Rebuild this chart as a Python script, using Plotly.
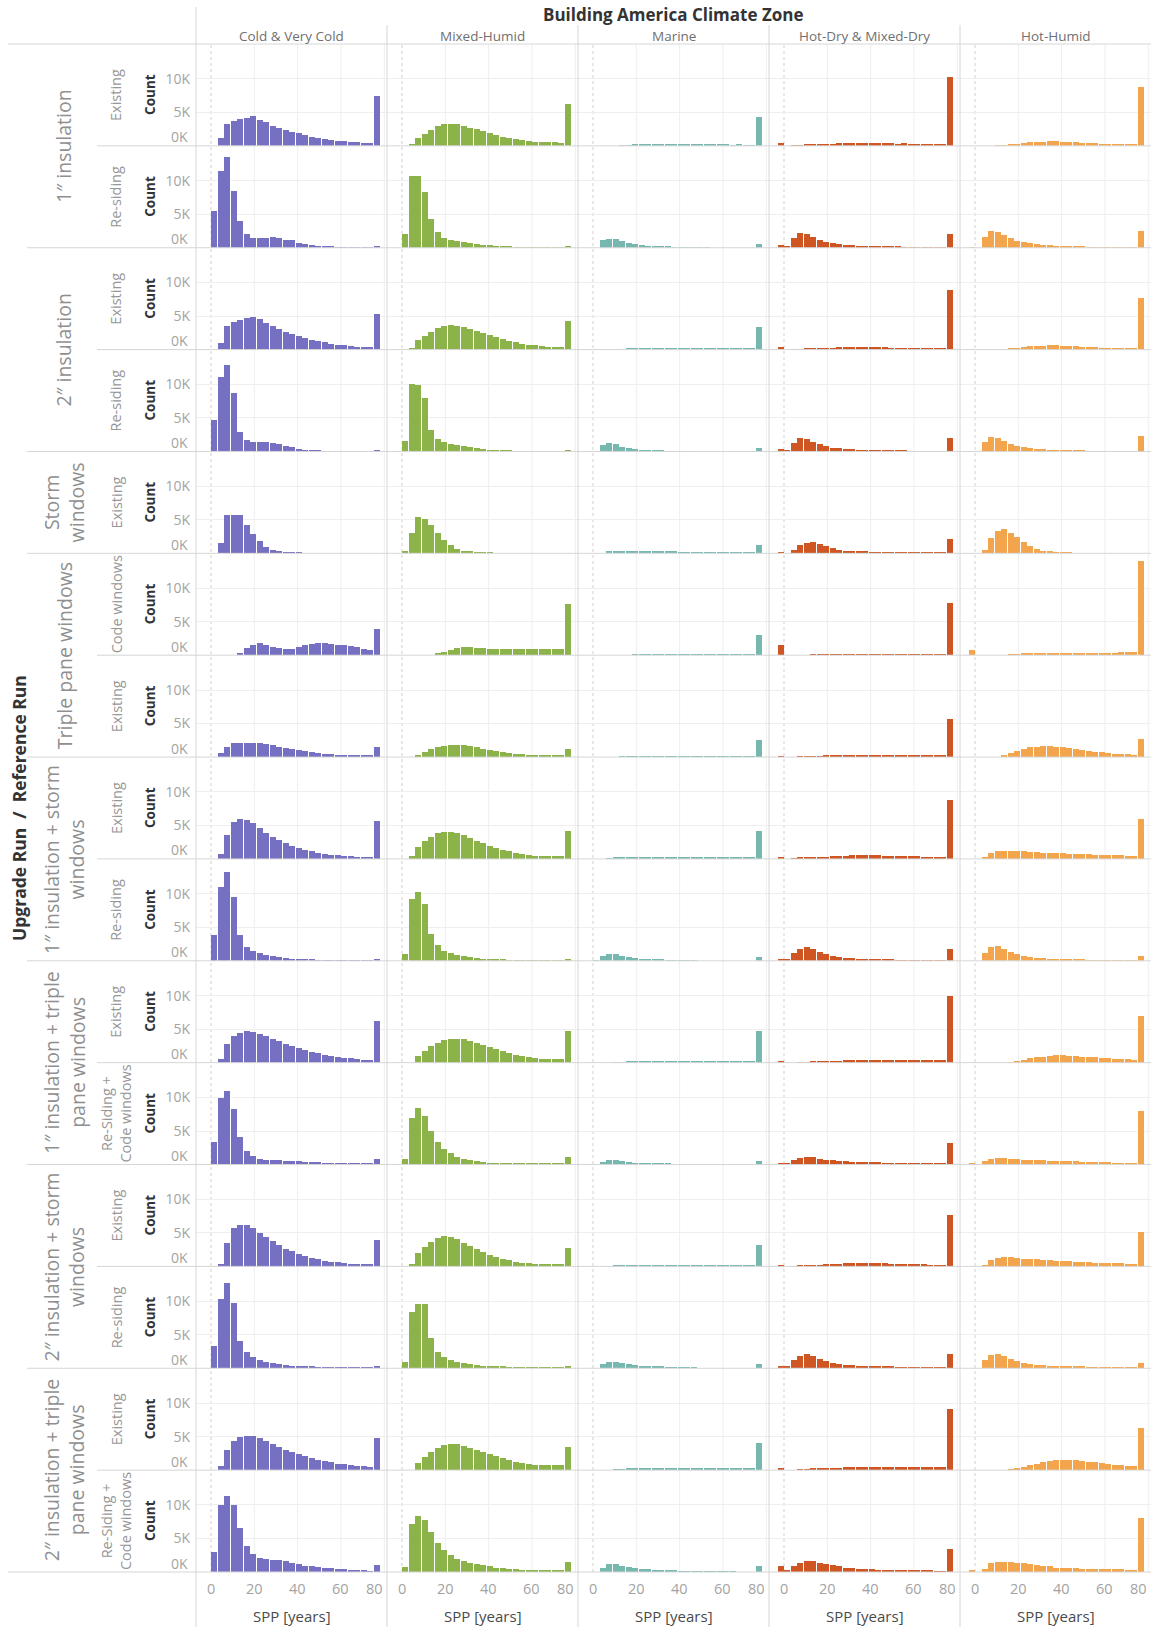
import plotly.graph_objects as go

# ---------------- data ----------------
BIN_CENTERS = [-1.5, 1.5, 4.5, 7.5, 10.5, 13.5, 16.5, 19.5, 22.5, 25.5, 28.5, 31.5, 34.5, 37.5,
               40.5, 43.5, 46.5, 49.5, 52.5, 55.5, 58.5, 61.5, 64.5, 67.5, 70.5, 73.5, 76.5]
ZONES = ["Cold & Very Cold", "Mixed-Humid", "Marine", "Hot-Dry & Mixed-Dry", "Hot-Humid"]
ZONE_COLORS = ["#7670c2", "#8cb24a", "#76b8b0", "#cf5522", "#f2a54c"]
X_TICKS = [0, 20, 40, 60, 80]
Y_TICKS = [5000, 10000]
Y_TICK_TEXT = ["5K", "10K"]
GROUPS = ["1\u2033 insulation", "2\u2033 insulation", "Storm<br>windows", "Triple pane windows",
          "1\u2033 insulation + storm<br>windows", "1\u2033 insulation + triple<br>pane windows",
          "2\u2033 insulation + storm<br>windows", "2\u2033 insulation + triple<br>pane windows"]
GROUP_SIZES = [2, 2, 1, 2, 2, 2, 2, 2]
ROW_LABELS = ["Existing", "Re-siding", "Existing", "Re-siding", "Existing", "Code windows", "Existing",
              "Existing", "Re-siding", "Existing", "Re-Siding +<br>Code windows", "Existing", "Re-siding",
              "Existing", "Re-Siding +<br>Code windows"]

# 1" insulation - Existing
ins1_ex_cold = [0,0,1200,3200,3700,4000,4200,4400,3900,3500,3000,2700,2300,2100,1900,1600,1250,1100,1000,850,750,700,600,550,500,450,7400]
ins1_ex_mixed = [0,0,200,1200,1800,2300,2900,3200,3200,3200,2900,2700,2500,2200,1900,1650,1350,1100,1000,900,750,600,600,600,600,450,6300]
ins1_ex_marine = [0,0,0,0,0,50,100,150,150,150,200,150,150,150,150,150,150,150,150,150,150,150,100,150,100,100,4300]
ins1_ex_hotdry = [450,0,20,50,150,150,150,250,250,400,400,400,400,400,400,400,400,400,300,400,300,300,300,300,300,300,10250]
ins1_ex_hothum = [0,0,0,0,50,80,150,300,400,600,600,600,750,750,600,600,550,500,500,400,350,350,350,350,350,350,8850]
# 1" insulation - Re-siding
ins1_rs_cold = [0,5500,11500,13500,8500,4000,2000,1400,1400,1400,1600,1400,1100,1100,800,650,400,350,250,150,100,80,60,50,50,50,200]
ins1_rs_mixed = [0,2100,10700,10700,8400,4300,2350,1400,1150,1000,900,750,650,500,400,300,200,150,100,80,60,50,40,30,30,30,150]
ins1_rs_marine = [0,0,1150,1300,1300,1000,750,550,400,300,250,200,150,100,50,30,20,20,20,0,0,0,0,0,0,0,650]
ins1_rs_hotdry = [500,300,1400,2200,2100,1600,1200,900,700,600,500,400,350,300,250,250,200,150,150,100,50,50,50,30,30,30,2000]
ins1_rs_hothum = [50,0,1600,2500,2300,1900,1400,1050,850,700,600,500,400,300,250,200,150,150,120,100,80,60,50,40,30,30,2500]
# 2" insulation - Existing
ins2_ex_cold = [0,0,1000,3600,4100,4400,4700,4900,4600,4000,3500,3100,2700,2400,2100,1800,1500,1300,1100,950,800,700,600,500,450,400,5400]
ins2_ex_mixed = [0,0,300,1400,2100,2700,3200,3500,3700,3600,3400,3100,2800,2500,2200,1900,1600,1300,1100,950,800,700,600,500,450,400,4300]
ins2_ex_marine = [0,0,0,0,50,100,150,200,250,250,250,250,250,250,250,250,250,250,250,250,250,200,200,200,200,150,3400]
ins2_ex_hotdry = [400,0,20,50,150,200,250,300,350,400,400,400,400,400,400,400,400,350,350,350,300,300,300,300,300,300,9000]
ins2_ex_hothum = [0,0,0,0,50,100,200,300,450,550,600,650,700,700,650,600,550,500,450,400,350,350,350,300,300,300,7800]
# 2" insulation - Re-siding
ins2_rs_cold = [0,4800,11200,13000,8800,3000,1800,1400,1400,1400,1300,1100,900,700,500,350,250,150,100,60,50,50,50,50,50,50,200]
ins2_rs_mixed = [0,1600,10100,10000,8100,3200,1900,1400,1200,1000,850,700,550,450,350,250,200,150,100,80,60,50,40,30,30,30,150]
ins2_rs_marine = [0,0,1000,1300,1100,800,600,450,350,250,200,150,100,50,30,20,20,0,0,0,0,0,0,0,0,0,600]
ins2_rs_hotdry = [500,300,1300,2000,1900,1500,1100,850,650,550,450,400,300,250,200,150,150,150,150,150,100,50,50,30,30,30,2100]
ins2_rs_hothum = [0,0,1400,2200,2000,1600,1200,950,750,600,500,450,350,300,250,200,150,150,100,100,80,60,50,40,30,30,2300]
# Storm windows - Existing
stw_ex_cold = [0,0,1500,5600,5600,5600,4200,2800,1700,900,500,250,100,50,20,0,0,0,0,0,0,0,0,0,0,0,0]
stw_ex_mixed = [0,300,3000,5300,5100,4200,3000,1900,1100,600,300,150,80,40,20,0,0,0,0,0,0,0,0,0,0,0,0]
stw_ex_marine = [0,0,0,150,300,350,300,300,250,200,200,150,150,150,100,100,100,100,50,50,50,50,50,50,50,50,1200]
stw_ex_hotdry = [100,0,500,1100,1500,1600,1300,1000,700,500,350,250,200,150,100,80,60,50,40,30,20,20,20,20,20,20,2000]
stw_ex_hothum = [0,0,500,2200,3200,3600,3000,2400,1600,1000,600,350,200,100,50,20,0,0,0,0,0,0,0,0,0,0,0]
# Triple pane windows - Code windows
tpw_cw_cold = [0,0,0,0,0,300,1000,1500,1800,1500,1200,1000,900,900,1100,1400,1600,1700,1700,1600,1500,1400,1300,1100,900,800,3900]
tpw_cw_mixed = [0,0,0,0,0,0,200,500,800,1000,1100,1100,1000,1000,950,950,900,900,900,900,900,900,900,900,900,900,7600]
tpw_cw_marine = [0,0,0,0,0,0,0,20,50,50,50,50,50,50,50,50,50,50,50,50,50,50,50,50,50,50,3000]
tpw_cw_hotdry = [1400,0,0,0,0,20,50,50,80,80,80,80,80,80,80,80,80,80,80,80,80,80,80,80,80,80,7800]
tpw_cw_hothum = [700,0,0,0,0,0,50,100,150,200,250,250,300,300,300,300,300,300,300,300,300,350,350,400,400,500,14000]
# Triple pane windows - Existing
tpw_ex_cold = [0,0,600,1500,2000,2100,2100,2100,2000,1900,1700,1500,1300,1150,1000,850,700,600,500,400,350,300,250,200,200,200,1400]
tpw_ex_mixed = [0,0,0,300,700,1100,1400,1600,1800,1800,1700,1550,1400,1200,1000,850,700,600,500,400,350,300,250,250,250,250,1200]
tpw_ex_marine = [0,0,0,0,0,50,50,100,100,100,100,100,100,100,100,100,100,100,100,100,50,50,50,50,50,50,2500]
tpw_ex_hotdry = [100,0,0,20,50,100,100,150,200,200,250,250,250,250,250,250,250,250,200,200,200,200,200,200,200,200,5700]
tpw_ex_hothum = [0,0,0,0,0,300,600,900,1200,1400,1500,1600,1600,1500,1400,1300,1200,1050,900,800,700,600,500,450,400,350,2600]
# 1" insulation + storm windows - Existing
i1s_ex_cold = [0,0,700,3500,5500,5900,5800,5300,4600,3900,3300,2800,2300,1900,1600,1300,1100,900,750,650,550,450,400,350,300,300,5700]
i1s_ex_mixed = [0,0,400,1800,2700,3300,3800,4000,4000,3800,3500,3100,2700,2300,1900,1600,1300,1100,900,750,600,500,400,400,400,400,4100]
i1s_ex_marine = [0,0,0,50,150,200,300,300,300,250,250,250,250,250,200,200,200,200,200,200,150,150,150,150,150,150,4100]
i1s_ex_hotdry = [200,0,100,150,200,250,300,350,400,450,500,550,600,600,550,550,500,500,450,450,400,400,350,350,300,300,8800]
i1s_ex_hothum = [0,0,300,900,1100,1200,1200,1200,1100,1050,1000,900,900,850,850,800,800,700,700,650,600,600,550,550,500,500,5900]
# 1" insulation + storm windows - Re-siding
i1s_rs_cold = [0,3800,11000,13200,9600,3800,2000,1500,1100,900,700,550,450,350,250,200,150,100,100,80,60,50,40,30,30,30,200]
i1s_rs_mixed = [0,1000,9300,10300,8500,4000,2300,1500,1100,850,700,550,450,350,250,200,150,100,80,60,50,40,30,30,30,30,200]
i1s_rs_marine = [0,100,700,1000,1000,800,600,450,350,250,200,150,100,50,30,20,20,0,0,0,0,0,0,0,0,0,600]
i1s_rs_hotdry = [300,300,1200,1800,2100,1700,1300,1000,750,600,500,400,300,250,200,150,150,150,100,50,50,50,30,30,30,30,1800]
i1s_rs_hothum = [0,0,1200,2000,2200,1800,1300,1000,750,600,500,400,300,250,200,200,200,150,100,80,60,50,40,30,30,30,800]
# 1" insulation + triple pane windows - Existing
i1t_ex_cold = [0,0,600,2800,4000,4500,4700,4600,4300,4000,3600,3200,2800,2500,2200,1900,1600,1400,1200,1000,900,800,700,600,500,450,6300]
i1t_ex_mixed = [0,0,0,1000,1800,2500,3000,3400,3600,3600,3500,3200,2900,2600,2300,2000,1700,1400,1200,1000,850,700,600,600,600,600,4800]
i1t_ex_marine = [0,0,0,0,50,100,150,150,200,200,250,250,250,250,250,250,250,200,200,200,200,150,150,150,150,150,4800]
i1t_ex_hotdry = [200,0,0,50,100,150,200,250,300,350,400,450,450,500,500,500,450,450,450,400,400,400,400,400,400,400,10000]
i1t_ex_hothum = [0,0,0,0,0,0,100,300,500,700,850,950,1050,1100,1100,1050,1000,950,900,850,750,700,650,600,550,500,7000]
# 1" insulation + triple pane windows - Re-Siding + Code windows
i1t_rc_cold = [0,3400,10000,11000,8400,4200,2100,1300,900,800,750,700,650,600,550,500,450,400,350,300,250,200,200,200,200,200,900]
i1t_rc_mixed = [0,900,7000,8500,7300,5000,3400,2400,1700,1200,900,700,550,450,350,300,200,200,200,200,200,200,200,200,200,200,1200]
i1t_rc_marine = [0,0,500,700,700,550,400,300,250,150,150,150,150,100,50,50,50,30,30,30,30,30,30,30,30,30,600]
i1t_rc_hotdry = [300,300,700,1000,1200,1100,900,800,700,600,550,500,450,450,400,400,350,350,300,300,250,250,200,200,200,200,3300]
i1t_rc_hothum = [300,0,600,900,1000,1000,900,850,800,750,700,700,650,650,600,600,550,500,500,450,400,400,350,350,300,300,8100]
# 2" insulation + storm windows - Existing
i2s_ex_cold = [0,0,500,3600,5800,6300,6300,5800,5100,4400,3800,3200,2700,2300,1900,1600,1300,1100,900,800,700,600,500,500,500,500,4000]
i2s_ex_mixed = [0,0,400,2000,3000,3700,4300,4600,4500,4100,3600,3100,2600,2200,1800,1500,1200,1000,800,650,550,450,450,450,450,450,2800]
i2s_ex_marine = [0,0,0,50,150,200,300,300,300,300,300,250,250,250,250,250,200,200,200,200,200,150,150,150,150,150,3300]
i2s_ex_hotdry = [200,0,100,150,250,300,350,400,450,500,550,600,600,600,600,550,550,500,500,450,450,400,400,350,350,300,7800]
i2s_ex_hothum = [0,0,300,1000,1300,1400,1400,1300,1200,1150,1100,1050,1000,950,900,850,800,750,700,650,600,600,550,550,500,500,5200]
# 2" insulation + storm windows - Re-siding
i2s_rs_cold = [0,3300,10300,12600,9700,4000,2300,1600,1200,950,750,600,450,350,250,200,150,100,100,80,60,50,40,30,30,30,200]
i2s_rs_mixed = [0,900,8300,9600,9500,4500,2400,1600,1150,900,700,550,450,350,250,200,150,100,80,60,50,40,30,30,30,30,150]
i2s_rs_marine = [0,0,600,900,950,800,600,450,350,250,200,150,100,50,30,20,20,0,0,0,0,0,0,0,0,0,600]
i2s_rs_hotdry = [300,300,1100,1700,2000,1700,1300,1000,800,600,500,400,350,300,250,200,150,150,100,80,50,50,30,30,30,30,2000]
i2s_rs_hothum = [0,0,1100,1900,2100,1700,1300,1000,750,600,500,400,300,250,200,200,150,150,100,80,60,50,40,30,30,30,700]
# 2" insulation + triple pane windows - Existing
i2t_ex_cold = [0,0,600,3000,4300,4900,5100,5000,4700,4300,3900,3400,3000,2600,2300,2000,1700,1500,1300,1100,950,850,750,650,550,500,4800]
i2t_ex_mixed = [0,0,0,1000,1900,2700,3300,3700,3900,3900,3600,3300,2900,2600,2300,2000,1700,1400,1200,1000,850,700,700,700,700,700,3400]
i2t_ex_marine = [0,0,0,0,50,100,150,200,200,250,250,250,250,250,250,250,250,250,200,200,200,200,150,150,150,150,4000]
i2t_ex_hotdry = [200,0,0,50,100,150,200,250,300,350,400,400,450,450,500,500,450,450,450,400,400,400,400,400,400,400,9100]
i2t_ex_hothum = [0,0,0,0,0,0,100,300,500,700,900,1100,1300,1400,1500,1450,1400,1300,1200,1100,1000,900,800,700,650,600,6300]
# 2" insulation + triple pane windows - Re-Siding + Code windows
i2t_rc_cold = [0,3000,10000,11300,10000,6600,3800,2700,2100,1900,1750,1700,1650,1250,1100,950,900,750,600,550,500,400,350,200,150,100,1050]
i2t_rc_mixed = [0,750,7200,8300,7800,6000,4300,3300,2500,1900,1550,1350,1150,1000,850,650,550,450,400,350,300,200,200,200,200,150,1500]
i2t_rc_marine = [0,0,600,1100,1100,950,800,650,500,500,350,250,200,200,50,50,50,50,50,50,50,50,50,0,0,0,950]
i2t_rc_hotdry = [900,200,900,1350,1650,1650,1350,1150,1000,850,650,600,500,450,400,350,300,300,300,300,200,200,200,200,50,50,3400]
i2t_rc_hothum = [350,0,500,1250,1500,1500,1400,1350,1250,1100,1000,850,850,650,600,600,600,500,500,400,400,400,400,400,350,300,8000]

PANELS = [
    [ins1_ex_cold, ins1_ex_mixed, ins1_ex_marine, ins1_ex_hotdry, ins1_ex_hothum],
    [ins1_rs_cold, ins1_rs_mixed, ins1_rs_marine, ins1_rs_hotdry, ins1_rs_hothum],
    [ins2_ex_cold, ins2_ex_mixed, ins2_ex_marine, ins2_ex_hotdry, ins2_ex_hothum],
    [ins2_rs_cold, ins2_rs_mixed, ins2_rs_marine, ins2_rs_hotdry, ins2_rs_hothum],
    [stw_ex_cold, stw_ex_mixed, stw_ex_marine, stw_ex_hotdry, stw_ex_hothum],
    [tpw_cw_cold, tpw_cw_mixed, tpw_cw_marine, tpw_cw_hotdry, tpw_cw_hothum],
    [tpw_ex_cold, tpw_ex_mixed, tpw_ex_marine, tpw_ex_hotdry, tpw_ex_hothum],
    [i1s_ex_cold, i1s_ex_mixed, i1s_ex_marine, i1s_ex_hotdry, i1s_ex_hothum],
    [i1s_rs_cold, i1s_rs_mixed, i1s_rs_marine, i1s_rs_hotdry, i1s_rs_hothum],
    [i1t_ex_cold, i1t_ex_mixed, i1t_ex_marine, i1t_ex_hotdry, i1t_ex_hothum],
    [i1t_rc_cold, i1t_rc_mixed, i1t_rc_marine, i1t_rc_hotdry, i1t_rc_hothum],
    [i2s_ex_cold, i2s_ex_mixed, i2s_ex_marine, i2s_ex_hotdry, i2s_ex_hothum],
    [i2s_rs_cold, i2s_rs_mixed, i2s_rs_marine, i2s_rs_hotdry, i2s_rs_hothum],
    [i2t_ex_cold, i2t_ex_mixed, i2t_ex_marine, i2t_ex_hotdry, i2t_ex_hothum],
    [i2t_rc_cold, i2t_rc_mixed, i2t_rc_marine, i2t_rc_hotdry, i2t_rc_hothum],
]

# ---------------- layout (pixel geometry) ----------------
W, H = 1151, 1627
FONT = "Open Sans"
COL_L0, COL_W = 196.0, 191.0
ROW_T0 = 44.0
N_ROWS, N_COLS = len(PANELS), len(ZONES)
ROW_B_END = 1572.0
ROW_H = (ROW_B_END - ROW_T0) / N_ROWS
X0_OFF = 15.0
PX_PER_UNIT = 43.33 / 20.0
XR = [-X0_OFF / PX_PER_UNIT, (COL_W - X0_OFF) / PX_PER_UNIT]
YR = [0, 15200]
TICK_GRAY = "#a3a3a3"
LABEL_GRAY = "#979797"

def fx(px):
    return px / W

def fy(py):
    return 1 - py / H

fig = go.Figure()
layout = {}
for r in range(N_ROWS):
    top = ROW_T0 + ROW_H * r
    bot = top + ROW_H
    for c in range(N_COLS):
        i = r * N_COLS + c + 1
        sfx = "" if i == 1 else str(i)
        left = COL_L0 + COL_W * c
        fig.add_trace(go.Bar(
            x=BIN_CENTERS, y=PANELS[r][c], width=2.7,
            marker=dict(color=ZONE_COLORS[c], line=dict(width=0)),
            xaxis="x" + sfx, yaxis="y" + sfx, showlegend=False, hoverinfo="skip"))
        layout["xaxis" + sfx] = dict(
            domain=[fx(left), fx(left + COL_W)], range=XR, anchor="y" + sfx,
            tickvals=X_TICKS, showgrid=False, zeroline=False, showline=False, ticks="",
            showticklabels=False, fixedrange=True)
        layout["yaxis" + sfx] = dict(
            domain=[fy(bot), fy(top)], range=YR, anchor="x" + sfx,
            tickvals=Y_TICKS, ticktext=Y_TICK_TEXT, showgrid=True, gridcolor="#efefef", gridwidth=1,
            zeroline=False, showline=False, ticks="", showticklabels=(c == 0), ticklabelstandoff=5,
            tickfont=dict(family=FONT, size=14, color=TICK_GRAY), fixedrange=True)

shapes = []
annotations = []
LINE_C = "#d6d6d6"
GRID_C = "#eeeeee"

# vertical gridlines spanning each column + bottom x tick labels (placed through each column's x axis)
for c in range(N_COLS):
    xr = "x" if c == 0 else "x" + str(c + 1)
    xr_bottom = "x" + str((N_ROWS - 1) * N_COLS + c + 1)
    for v in X_TICKS:
        shapes.append(dict(type="line", xref=xr, yref="paper", x0=v, x1=v,
                           y0=fy(ROW_B_END), y1=fy(ROW_T0), layer="below",
                           line=dict(color="#cfcfcf" if v == 0 else GRID_C, width=1,
                                     dash="dot" if v == 0 else "solid")))
        annotations.append(dict(text=str(v), xref=xr_bottom, yref="paper", x=v, y=fy(1588),
                                xshift=(-10 if v == X_TICKS[-1] else 0), showarrow=False,
                                xanchor="center", yanchor="middle",
                                font=dict(family=FONT, size=14.5, color=TICK_GRAY)))

# header line
shapes.append(dict(type="line", xref="paper", yref="paper", x0=fx(8), x1=1, y0=fy(ROW_T0), y1=fy(ROW_T0),
                   line=dict(color=LINE_C, width=1)))
# row separators
group_end_rows = []
acc = 0
for g in GROUP_SIZES:
    acc += g
    group_end_rows.append(acc - 1)
for r in range(N_ROWS):
    yb = ROW_T0 + ROW_H * (r + 1)
    if r == N_ROWS - 1:
        x_start = 8
    elif r in group_end_rows:
        x_start = 27
    else:
        x_start = 97
    shapes.append(dict(type="line", xref="paper", yref="paper", x0=fx(x_start), x1=1, y0=fy(yb), y1=fy(yb),
                       line=dict(color=LINE_C, width=1)))
# vertical separators
shapes.append(dict(type="line", xref="paper", yref="paper", x0=fx(COL_L0), x1=fx(COL_L0), y0=0, y1=fy(7),
                   line=dict(color=LINE_C, width=1)))
for c in range(1, N_COLS):
    xs = COL_L0 + COL_W * c
    shapes.append(dict(type="line", xref="paper", yref="paper", x0=fx(xs), x1=fx(xs), y0=0, y1=fy(25),
                       line=dict(color=LINE_C, width=1)))

# titles
annotations.append(dict(text="<b>Building America Climate Zone</b>", xref="paper", yref="paper",
                        x=fx(COL_L0 + COL_W * N_COLS / 2), y=fy(15), showarrow=False, borderpad=0,
                        xanchor="center", yanchor="middle", font=dict(family=FONT, size=17, color="#333333")))
for c, z in enumerate(ZONES):
    cx = COL_L0 + COL_W * c + COL_W / 2
    annotations.append(dict(text=z, xref="paper", yref="paper", x=fx(cx), y=fy(36), showarrow=False, borderpad=0,
                            xanchor="center", yanchor="middle", font=dict(family=FONT, size=13.5, color="#707070")))
    annotations.append(dict(text="SPP [years]", xref="paper", yref="paper", x=fx(cx), y=fy(1616), showarrow=False,
                            xanchor="center", yanchor="middle", font=dict(family=FONT, size=15, color="#4a4a4a")))

annotations.append(dict(text="<b>Upgrade Run  /  Reference Run</b>", xref="paper", yref="paper",
                        x=fx(19), y=fy((ROW_T0 + ROW_B_END) / 2), showarrow=False, textangle=-90,
                        xanchor="center", yanchor="middle", font=dict(family=FONT, size=17.5, color="#333333")))

r0 = 0
for g, n in zip(GROUPS, GROUP_SIZES):
    yc = ROW_T0 + ROW_H * (r0 + n / 2)
    annotations.append(dict(text=g, xref="paper", yref="paper", x=fx(64), y=fy(yc), showarrow=False,
                            textangle=-90, xanchor="center", yanchor="middle",
                            font=dict(family=FONT, size=19.5, color="#8f8f8f")))
    r0 += n

for r, lab in enumerate(ROW_LABELS):
    yc = ROW_T0 + ROW_H * (r + 0.5)
    annotations.append(dict(text=lab, xref="paper", yref="paper", x=fx(116), y=fy(yc), showarrow=False,
                            textangle=-90, xanchor="center", yanchor="middle",
                            font=dict(family=FONT, size=14.5, color=LABEL_GRAY)))
    annotations.append(dict(text="<b>Count</b>", xref="paper", yref="paper", x=fx(150), y=fy(yc), showarrow=False,
                            textangle=-90, xanchor="center", yanchor="middle",
                            font=dict(family=FONT, size=13.5, color="#333333")))
    annotations.append(dict(text="0K", xref="paper", yref="paper", x=fx(COL_L0 - 6), y=fy(yc + ROW_H / 2 - 9),
                            showarrow=False, xanchor="right", yanchor="middle",
                            font=dict(family=FONT, size=14, color=TICK_GRAY)))

fig.update_layout(
    width=W, height=H, margin=dict(l=0, r=0, t=0, b=0, pad=0),
    paper_bgcolor="white", plot_bgcolor="white", bargap=0,
    shapes=shapes, annotations=annotations, showlegend=False,
    font=dict(family=FONT), **layout)

fig.write_html("out.html", config={"displayModeBar": False},
               post_script="document.body.style.margin='0';document.body.style.overflow='hidden';")
